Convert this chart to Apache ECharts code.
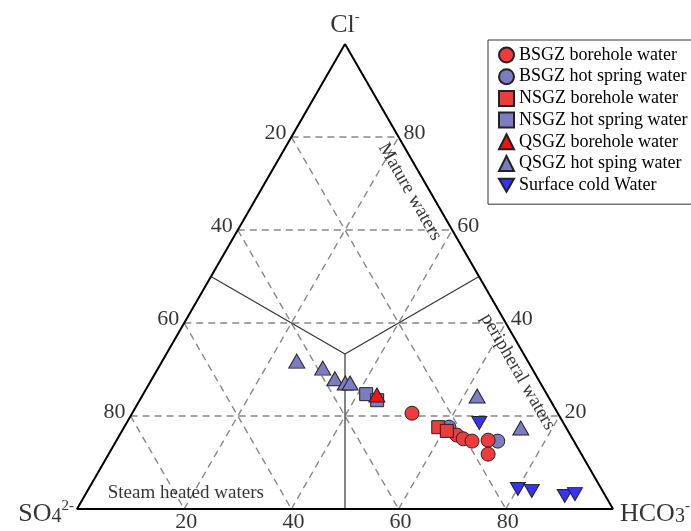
<!DOCTYPE html>
<html>
<head>
<meta charset="utf-8">
<script src="https://cdn.jsdelivr.net/npm/echarts@6/dist/echarts.min.js"></script>
<style>html,body{margin:0;padding:0;background:#fff}#c{width:691px;height:531px}</style>
</head>
<body>
<div id="c"></div>
<script>
// ternary data: [Cl, SO4, HCO3] in %
const seriesNames = ['BSGZ borehole water','BSGZ hot spring water','NSGZ borehole water','NSGZ hot spring water','QSGZ borehole water','QSGZ hot sping water','Surface cold Water'];
const bsgzBorehole = [[20.6,27.2,52.2],[15.9,21.2,62.9],[15.1,20.4,64.5],[14.6,19.0,66.4],[14.8,15.9,69.3],[11.8,17.4,70.8]];
const bsgzHotSpring = [[17.6,21.8,60.6],[14.6,14.2,71.2]];
const nsgzBorehole = [[17.6,23.8,58.6],[16.8,22.6,60.6]];
const nsgzHotSpring = [[24.7,33.7,41.6],[23.4,32.3,44.3]];
const qsgzBorehole = [[24.5,31.8,43.7]];
const qsgzHotSpring = [[31.8,43.1,25.1],[30.3,39.0,30.7],[28.0,37.9,34.1],[27.1,36.4,36.5],[27.1,35.5,37.4],[24.3,13.2,62.5],[17.4,8.5,74.1]];
const surfaceCold = [[18.5,15.7,65.8],[4.3,15.6,80.1],[3.9,13.2,82.9],[2.8,7.6,89.6],[3.2,5.5,91.3]];
const ticks = [20,40,60,80];

// ternary -> cartesian (x along base, y = Cl)
function tern(cl, so4, hco3){ return [hco3 + cl/2, cl]; }
const P = a => a.map(d => tern(d[0], d[1], d[2]));

const serif = 'Liberation Serif, Times New Roman, serif';
const red = '#EF3B3B', purple = '#7B7DC0', blue = '#3434F2';
const downTri = 'path://M0,0L20,0L10,17.3Z';

const series = [];
function seg(a, b, style){
  series.push({type:'line', data:[tern(...a), tern(...b)], symbol:'none', silent:true,
    lineStyle:style, z:1, animation:false});
}
const dash = {color:'#888', width:1.4, type:[7,5]};
ticks.forEach(t => {
  seg([t,100-t,0],[t,0,100-t],dash);      // constant Cl
  seg([100-t,t,0],[0,t,100-t],dash);      // constant SO4
  seg([0,100-t,t],[100-t,0,t],dash);      // constant HCO3
});
const c3 = 100/3;
const solid = {color:'#333', width:1.2};
seg([c3,c3,c3],[50,50,0],solid);
seg([c3,c3,c3],[50,0,50],solid);
seg([c3,c3,c3],[0,50,50],solid);
// outline
series.push({type:'line', data:[tern(100,0,0),tern(0,100,0),tern(0,0,100),tern(100,0,0)], symbol:'none', silent:true,
  lineStyle:{color:'#000', width:2}, z:2, animation:false});

// tick labels
function labels(points, texts, pos, offset){
  series.push({type:'scatter', symbolSize:0, silent:true, z:3, animation:false,
    data: points.map((p,i)=>({value:p, label:{formatter:texts[i]}})),
    label:{show:true, position:pos, offset:offset, color:'#000', fontFamily:serif, fontSize:22}});
}
labels(ticks.map(t=>tern(0,100-t,t)), ticks.map(String), 'bottom', [2,-3]);
labels(ticks.map(t=>tern(100-t,t,0)), ticks.map(String), 'left', [0,-4]);
labels(ticks.map(t=>tern(t,0,100-t)), ticks.map(String), 'right', [0,-4]);

// vertex titles & region names
const rich = {
  m:{fontFamily:serif, fontSize:26, lineHeight:28, color:'#000', verticalAlign:'bottom'},
  sup:{fontFamily:serif, fontSize:15, lineHeight:28, color:'#000', verticalAlign:'top'},
  sub:{fontFamily:serif, fontSize:20, lineHeight:22, color:'#000', verticalAlign:'bottom'}
};
series.push({type:'scatter', symbolSize:0, silent:true, z:3, animation:false, data:[
  {value:tern(100,0,0), label:{position:'top', distance:6, formatter:'{m|Cl}{sup|-}'}},
  {value:tern(0,100,0), label:{position:'left', distance:3, offset:[0,4], formatter:'{m|SO}{sub|4}{sup|2-}'}},
  {value:tern(0,0,100), label:{position:'right', distance:7, offset:[0,4], formatter:'{m|HCO}{sub|3}{sup|-}'}}
], label:{show:true, rich:rich}});

series.push({type:'scatter', symbolSize:0, silent:true, z:3, animation:false, data:[
  {value:tern(68.2,3.8,28.0), label:{formatter:'Mature waters', rotate:-60}},
  {value:tern(29.5,3.0,67.5), label:{formatter:'peripheral waters', rotate:-60}},
  {value:tern(3.4,78,18.6), label:{formatter:'Steam heated waters'}}
], label:{show:true, position:'inside', color:'#000', fontFamily:serif, fontSize:19}});

// data series (drawing order chosen for overlap)
const border = {borderColor:'#222', borderWidth:1};
function pts(name, data, symbol, size, color, z){
  series.push({name:name, type:'scatter', data:P(data), symbol:symbol, symbolSize:size, z:z,
    itemStyle:Object.assign({color:color, opacity:1}, border), animation:false});
}
pts(seriesNames[1], bsgzHotSpring, 'circle', 14, purple, 4);
pts(seriesNames[3], nsgzHotSpring, 'rect', 13, purple, 4);
pts(seriesNames[5], qsgzHotSpring, 'triangle', [16,14], purple, 4);
pts(seriesNames[0], bsgzBorehole, 'circle', 14, red, 5);
pts(seriesNames[2], nsgzBorehole, 'rect', 13, red, 6);
pts(seriesNames[4], qsgzBorehole, 'triangle', [16,14], '#F41212', 6);
pts(seriesNames[6], surfaceCold, downTri, [15,13], blue, 6);

const chart = echarts.init(document.getElementById('c'), null, {renderer:'canvas'});
chart.setOption({
  animation:false,
  grid:{left:77, top:44, width:536, height:465},
  xAxis:{type:'value', min:0, max:100, show:false},
  yAxis:{type:'value', min:0, max:100, show:false},
  legend:{data:seriesNames, orient:'vertical', left:488, top:40, itemWidth:15, itemHeight:15, itemGap:3.7,
    padding:[6,10,10,10], borderColor:'#333', borderWidth:1, backgroundColor:'#fff',
    textStyle:{fontFamily:serif, fontSize:18, lineHeight:16, color:'#000'}},
  series:series
});
</script>
</body>
</html>
